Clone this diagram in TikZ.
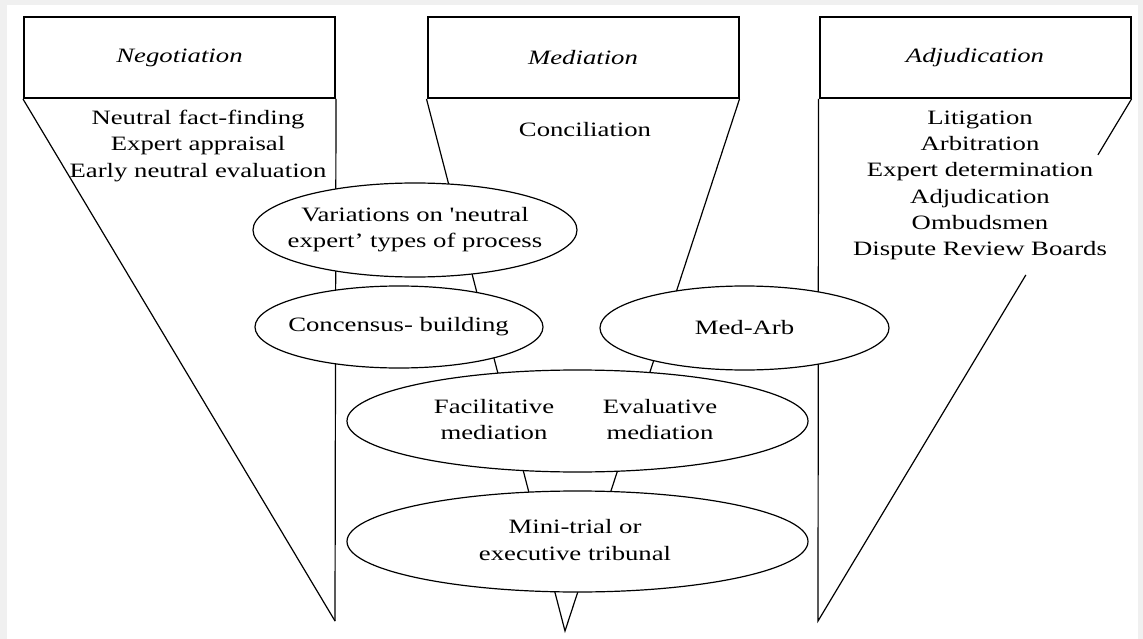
\documentclass[tikz,border=0pt]{standalone}
\usepackage{fontspec}
\setmainfont[FakeStretch=1.31,Ligatures=TeXOff]{Liberation Serif}
\usetikzlibrary{shapes.geometric,calc}
\begin{document}
\begin{tikzpicture}[x=1pt,y=-1pt,
  every node/.style={font=\fontsize{20.4}{26.2}\selectfont},
  titlebox/.style={draw, line width=2pt, minimum width=311pt, minimum height=81pt, inner sep=0pt},
  oval/.style={draw, ellipse, fill=white, line width=1.2pt, inner sep=0pt},
  funnel/.style={line width=1.2pt},
  txt/.style={align=center, inner sep=0pt}]
\fill[white!94!black] (0,0) rectangle (1143,639);
\fill[white] (7,5) rectangle (1138,639);
\useasboundingbox (0,0) rectangle (1143,639);

% title boxes
\node[titlebox] (neg) at (179.5,57.5) {\itshape Negotiation};
\node[titlebox] (med) at (583,57.5) {\itshape Mediation};
\node[titlebox] (adj) at (975,57.5) {\itshape Adjudication};

% funnel tips
\coordinate (negTip) at (335,621);
\coordinate (medTip) at (565,631);
\coordinate (adjTip) at (818,621);
\coordinate (adjA) at ($(adj.south east)!0.107!(adjTip)$);
\coordinate (adjB) at ($(adj.south east)!0.337!(adjTip)$);

% funnel sides
\draw[funnel] (neg.south west) -- (negTip);
\draw[funnel] (neg.south east) -- (negTip);
\draw[funnel] (med.south west) -- (medTip) -- (med.south east);
\draw[funnel] (adj.south west) -- (adjTip) -- (adjB);
\draw[funnel] (adj.south east) -- (adjA);

% lists
\node[txt] (negList) at (198,146) {Neutral fact-finding\\Expert appraisal\\Early neutral evaluation};
\node[txt] (concil) at (585,130) {Conciliation};
\node[txt] (adjList) at (980,185.5) {Litigation\\Arbitration\\Expert determination\\Adjudication\\Ombudsmen\\Dispute Review Boards};

% ellipses
\node[oval, minimum width=324pt, minimum height=94pt] (var) at (415,230) {};
\node[txt] (varT) at (415,229.5) {Variations on 'neutral\\expert’ types of process};
\node[oval, minimum width=288pt, minimum height=82pt] (cons) at (399,327) {};
\node[txt] (consT) at (398.5,327) {Concensus- building};
\node[oval, minimum width=289pt, minimum height=84pt] (medarb) at (744.5,328) {};
\node[txt] (medarbT) at (744.5,328) {Med-Arb};
\node[oval, minimum width=461pt, minimum height=102pt] (fac) at (577.5,421) {};
\node[txt] (facT) at (494,419.5) {Facilitative\\mediation};
\node[txt] (evaT) at (660,419.5) {Evaluative\\mediation};
\node[oval, minimum width=461pt, minimum height=101pt] (mini) at (577.5,541.5) {};
\node[txt] (miniT) at (575,540) {Mini-trial or\\executive tribunal};
\end{tikzpicture}
\end{document}
